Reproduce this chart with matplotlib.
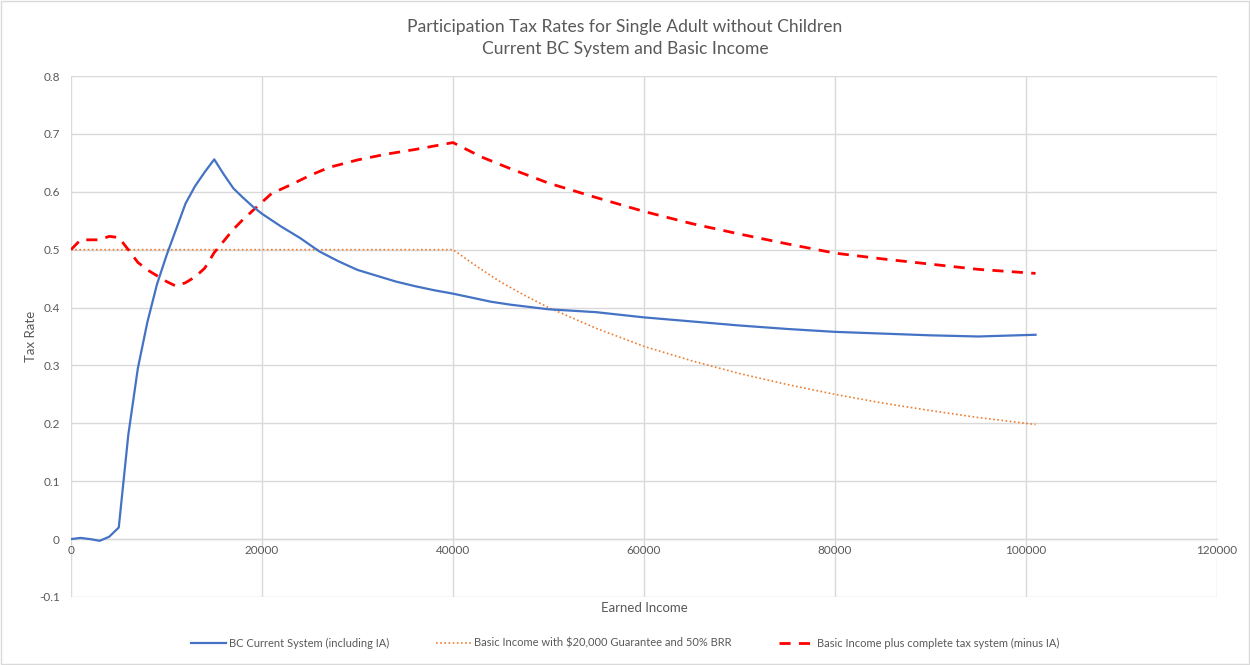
import matplotlib
matplotlib.use("Agg")
import matplotlib.pyplot as plt
from matplotlib.patches import Rectangle

plt.rcParams['font.family'] = ['Lato', 'DejaVu Sans']

# Earned income sample points and participation tax rates
bc_income = [0, 1000, 2000, 3000, 4000, 5000, 6000, 7000, 8000, 9000, 10000,
             11000, 12000, 13000, 14000, 15000, 16000, 17000, 18000, 19000, 20000,
             22000, 24000, 26000, 28000, 30000, 32000, 34000, 36000, 38000, 40000,
             42000, 44000, 46000, 48000, 50000, 55000, 60000, 65000, 70000, 75000,
             80000, 85000, 90000, 95000, 101000]
bc_rate = [0.0, 0.002, 0.0, -0.003, 0.004, 0.02, 0.18, 0.295, 0.375, 0.44, 0.49,
           0.535, 0.58, 0.61, 0.634, 0.656, 0.63, 0.606, 0.59, 0.575, 0.562,
           0.54, 0.52, 0.497, 0.48, 0.465, 0.455, 0.445, 0.437, 0.43, 0.424,
           0.417, 0.41, 0.405, 0.401, 0.397, 0.392, 0.383, 0.376, 0.369, 0.363,
           0.358, 0.355, 0.352, 0.350, 0.353]

bi_income = [0, 10000, 20000, 30000, 40000, 42500, 45000, 47500, 50000, 55000,
             60000, 65000, 70000, 75000, 80000, 85000, 90000, 95000, 101000]
bi_rate = [0.5, 0.5, 0.5, 0.5, 0.5, 0.471, 0.444, 0.421, 0.4, 0.364,
           0.333, 0.308, 0.286, 0.267, 0.25, 0.235, 0.222, 0.21, 0.198]

bit_income = [0, 1000, 2000, 3000, 4000, 5000, 6000, 7000, 8000, 9000, 10000,
              11000, 12000, 13000, 14000, 15000, 16000, 17000, 18000, 19000, 20000,
              21000, 23000, 25000, 27000, 30000, 33000, 36000, 40000, 43000, 46000,
              50000, 55000, 60000, 65000, 70000, 75000, 80000, 85000, 90000, 95000,
              101000]
bit_rate = [0.5, 0.517, 0.517, 0.517, 0.523, 0.521, 0.5, 0.478, 0.465, 0.455, 0.445,
            0.437, 0.443, 0.453, 0.468, 0.495, 0.515, 0.535, 0.552, 0.567, 0.582,
            0.597, 0.612, 0.628, 0.642, 0.655, 0.665, 0.673, 0.685, 0.66, 0.64,
            0.615, 0.59, 0.566, 0.545, 0.527, 0.51, 0.494, 0.484, 0.475, 0.466,
            0.459]

x_ticks = [0, 20000, 40000, 60000, 80000, 100000, 120000]
y_ticks = [-0.1, 0, 0.1, 0.2, 0.3, 0.4, 0.5, 0.6, 0.7, 0.8]

TEXT = '#595959'
GRID = '#d9d9d9'

fig = plt.figure(figsize=(12.5, 6.65), dpi=100)
fig.patches.append(Rectangle((0.001, 0.002), 0.998, 0.996, transform=fig.transFigure,
                             fill=False, edgecolor='#d9d9d9', linewidth=1.0))
ax = fig.add_axes([0.0568, 0.1023, 0.9168, 0.7834])

ax.plot(bc_income, bc_rate, color='#4472C4', lw=1.6,
        label='BC Current System (including IA)', zorder=4)
ax.plot(bi_income, bi_rate, color='#ED7D31', lw=1.2, linestyle=(0, (1, 1.5)),
        label='Basic Income with $20,000 Guarantee and 50% BRR', zorder=3)
ax.plot(bit_income, bit_rate, color='#FF0000', lw=2.0, linestyle=(0, (4, 3)),
        label='Basic Income plus complete tax system (minus IA)', zorder=3)

ax.set_xlim(0, 120000)
ax.set_ylim(-0.1, 0.8)
ax.set_xticks(x_ticks)
ax.set_xticklabels([str(v) for v in x_ticks])
ax.set_yticks(y_ticks)
ax.set_yticklabels(['-0.1', '0', '0.1', '0.2', '0.3', '0.4', '0.5', '0.6', '0.7', '0.8'])
ax.grid(True, color=GRID, linewidth=1.0)
ax.set_axisbelow(True)
for side in ['top', 'right', 'left']:
    ax.spines[side].set_visible(False)
ax.spines['bottom'].set_position(('data', 0))
ax.spines['bottom'].set_color(GRID)
ax.spines['bottom'].set_linewidth(1.0)
ax.tick_params(axis='both', length=0, colors=TEXT, labelsize=8.5)
ax.tick_params(axis='x', pad=4)
ax.tick_params(axis='y', pad=8)

ax.set_xlabel('Earned Income', color=TEXT, fontsize=9.5, labelpad=0)
ax.xaxis.set_label_coords(0.5, -0.009)
ax.set_ylabel('Tax Rate', color=TEXT, fontsize=9.5)
ax.yaxis.set_label_coords(-0.03, 0.5)

fig.text(0.5, 0.959, 'Participation Tax Rates for Single Adult without Children',
         ha='center', va='center', color=TEXT, fontsize=12.6)
fig.text(0.5, 0.926, 'Current BC System and Basic Income',
         ha='center', va='center', color=TEXT, fontsize=12.6)

leg = fig.legend(loc='center', bbox_to_anchor=(0.5, 0.033), ncol=3, frameon=False,
                 fontsize=8, handlelength=3.2, handletextpad=0.25, columnspacing=4.2)
for t in leg.get_texts():
    t.set_color(TEXT)

fig.savefig('out.png', dpi=100)
